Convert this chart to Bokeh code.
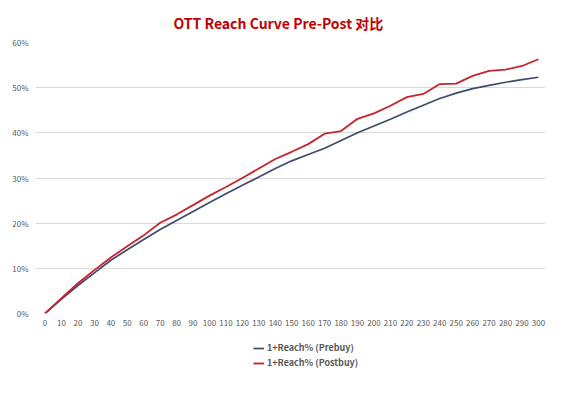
from bokeh.plotting import figure
from bokeh.layouts import column
from bokeh.models import Range1d, FixedTicker, Legend, LegendItem
from bokeh.embed import file_html
from bokeh.resources import INLINE

# ---- data ----
spots = list(range(0, 301, 10))
prebuy = [0.0, 3.2, 6.2, 9.0, 11.8, 14.1, 16.4, 18.6, 20.6, 22.6, 24.6,
          26.5, 28.4, 30.2, 32.1, 33.8, 35.2, 36.6, 38.3, 40.0, 41.5,
          43.0, 44.6, 46.1, 47.6, 48.8, 49.8, 50.5, 51.2, 51.8, 52.3]
postbuy = [0.0, 3.4, 6.7, 9.6, 12.4, 14.9, 17.3, 20.1, 21.9, 24.0, 26.1,
           28.0, 30.0, 32.1, 34.2, 35.8, 37.5, 39.8, 40.4, 43.1, 44.3,
           46.0, 47.9, 48.6, 50.8, 50.9, 52.6, 53.7, 54.0, 54.8, 56.3]
series_names = ["1+Reach% (Prebuy)", "1+Reach% (Postbuy)"]
x_ticks = list(range(0, 301, 10))
y_ticks = [0, 10, 20, 30, 40, 50, 60]
y_tick_labels = ["0%", "10%", "20%", "30%", "40%", "50%", "60%"]
title_text = "OTT Reach Curve Pre-Post 对比"

FONT = "Noto Sans CJK SC"
GREY = "#595959"
BLUE = "#3E4B6C"
RED = "#C8232C"

p = figure(width=570, height=338, output_backend="svg", toolbar_location=None,
           x_range=Range1d(-5.8, 304.3), y_range=Range1d(0, 60),
           min_border_left=35, min_border_right=25, min_border_top=41,
           min_border_bottom=25)

p.title.text = title_text
p.title.align = "left"
p.title.offset = 138
p.title.standoff = 20
p.title.text_color = "#C00000"
p.title.text_font = FONT
p.title.text_font_size = "14px"
p.title.text_font_style = "bold"

p.outline_line_color = None
p.xgrid.grid_line_color = None
p.ygrid.grid_line_color = "#D9D9D9"
p.ygrid.grid_line_width = 1

p.xaxis.ticker = FixedTicker(ticks=x_ticks)
p.yaxis.ticker = FixedTicker(ticks=y_ticks)
p.yaxis.major_label_overrides = {t: l for t, l in zip(y_ticks, y_tick_labels)}
for ax in (p.xaxis, p.yaxis):
    ax.axis_line_color = None
    ax.major_tick_line_color = None
    ax.major_tick_out = 0
    ax.major_tick_in = 0
    ax.minor_tick_line_color = None
    ax.minor_tick_out = 0
    ax.major_label_text_font = FONT
    ax.major_label_text_font_size = "8px"
    ax.major_label_text_color = GREY
p.xaxis.major_label_standoff = 6
p.yaxis.major_label_standoff = 7

p.line(spots, prebuy, line_color=BLUE, line_width=1.7)
p.line(spots, postbuy, line_color=RED, line_width=1.8)

# legend panel below the chart (same series, kept outside its visible range)
lg = figure(width=570, height=48, output_backend="svg", toolbar_location=None,
            x_range=Range1d(0, 1), y_range=Range1d(1000, 1001), min_border=0)
lg.axis.visible = False
lg.grid.grid_line_color = None
lg.outline_line_color = None
k1 = lg.line(spots, prebuy, line_color=BLUE, line_width=1.7)
k2 = lg.line(spots, postbuy, line_color=RED, line_width=1.8)
legend = Legend(items=[LegendItem(label=series_names[0], renderers=[k1]),
                       LegendItem(label=series_names[1], renderers=[k2])],
                location=(218, 17), orientation="vertical",
                label_text_font=FONT, label_text_font_size="9px",
                label_text_font_style="bold", label_text_color=GREY,
                glyph_width=11, glyph_height=10, label_height=10,
                spacing=2, padding=2, margin=0, label_standoff=3,
                background_fill_alpha=0, border_line_color=None)
lg.add_layout(legend)

layout = column(p, lg, spacing=0)
open("out.html", "w").write(file_html(layout, INLINE))
